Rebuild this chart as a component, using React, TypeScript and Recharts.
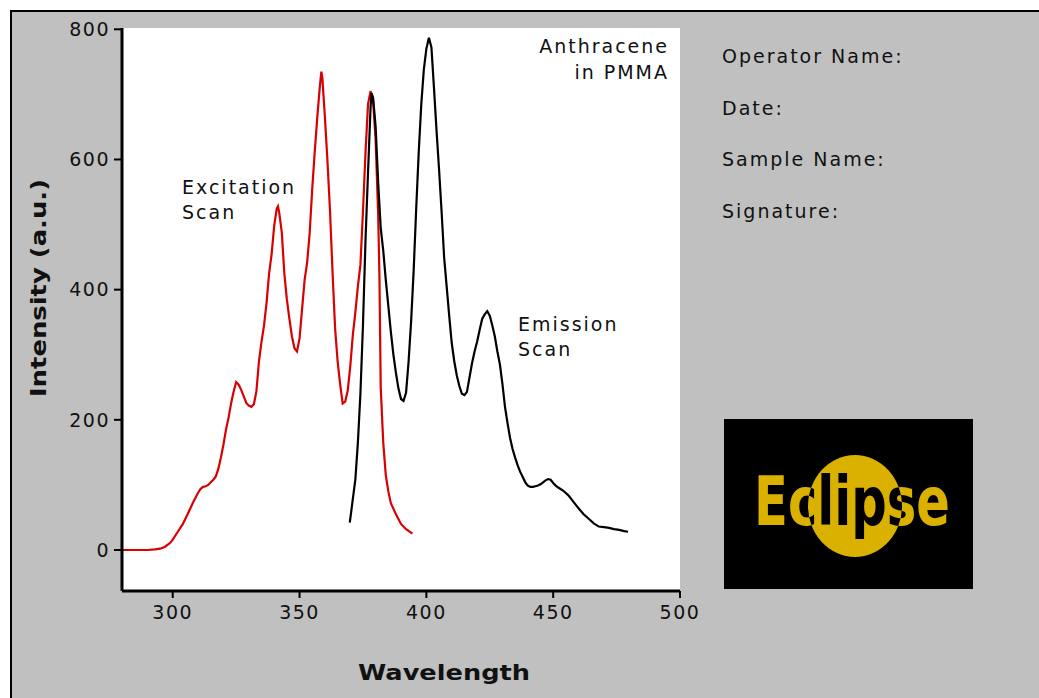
import React from 'react';
import { LineChart, Line, XAxis, YAxis, CartesianGrid } from 'recharts';

// [wavelength (nm), intensity (a.u.)]
const excitationScan: [number, number][] = [
  [280, 0], [285, 0], [290, 0], [293, 1], [295, 2], [297, 5], [299, 11], [300, 16], [302, 28], [304, 40],
  [306, 56], [308, 73], [310, 88], [311, 94], [312, 97], [313, 98], [314, 100], [315, 104], [316, 108], [317, 113],
  [318, 125], [319, 142], [320, 162], [321, 185], [322, 203], [323, 225], [324, 243], [325, 258], [326, 254], [327, 246],
  [328, 236], [329, 226], [330, 222], [331, 220], [332, 224], [333, 244], [334, 290], [335, 320], [336, 345], [337, 380],
  [338, 425], [339, 455], [340, 498], [341, 524], [341.5, 528], [342, 518], [343, 488], [344, 425], [345, 385], [346, 355],
  [347, 328], [348, 310], [349, 305], [350, 325], [351, 370], [352, 415], [353, 442], [354, 487], [355, 555], [356, 612],
  [357, 665], [358, 712], [358.6, 735], [359, 725], [360, 665], [361, 598], [362, 522], [363, 428], [364, 342], [365, 290],
  [366, 255], [367, 225], [368, 228], [369, 245], [370, 282], [371, 330], [372, 365], [373, 405], [374, 438], [375, 520],
  [376, 610], [377, 685], [378, 705], [379, 690], [380, 630], [381, 515], [381.5, 420], [382, 250], [383, 165], [384, 115],
  [385, 90], [386, 72], [388, 55], [390, 40], [392, 32], [394.5, 25],
];

const emissionScan: [number, number][] = [
  [369.8, 42], [371, 78], [372, 108], [373, 165], [374, 240], [375, 345], [376, 475], [377, 580], [378, 680], [378.4, 702],
  [379, 695], [380, 650], [381, 564], [382, 495], [383, 460], [384, 415], [385, 375], [386, 335], [387, 300], [388, 272],
  [389, 248], [390, 232], [391, 229], [392, 242], [393, 290], [394, 352], [395, 430], [396, 525], [397, 612], [398, 685],
  [399, 738], [400, 770], [401, 787], [402, 772], [403, 710], [404, 645], [405, 585], [406, 520], [407, 450], [408, 405],
  [409, 360], [410, 318], [411, 290], [412, 268], [413, 252], [414, 240], [415, 238], [416, 243], [417, 265], [418, 287],
  [419, 305], [420, 320], [421, 338], [422, 355], [423, 362], [424, 367], [425, 360], [426, 345], [427, 328], [428, 305],
  [429, 285], [430, 255], [431, 220], [432, 195], [433, 172], [434, 155], [435, 142], [436, 130], [437, 120], [438, 112],
  [439, 104], [440, 99], [441, 97], [442, 97], [443, 98], [444, 99], [445, 101], [446, 104], [447, 107], [448, 109],
  [449, 108], [450, 103], [451, 99], [452, 96], [454, 91], [456, 84], [458, 74], [460, 64], [462, 55], [464, 48],
  [466, 41], [468, 36], [470, 35], [472, 34], [474, 32], [476, 31], [478, 29], [479.5, 28],
];

const xTicks = [300, 350, 400, 450, 500];
const yTicks = [0, 200, 400, 600, 800];
const xDomain: [number, number] = [280, 500];
const yDomain: [number, number] = [-63, 802];
const infoLabels = ['Operator Name:', 'Date:', 'Sample Name:', 'Signature:'];

const excitationData = excitationScan.map(([w, v]) => ({ w, v }));
const emissionData = emissionScan.map(([w, v]) => ({ w, v }));

const FONT = "'DejaVu Sans', Verdana, sans-serif";
const GOLD = '#dbb100';

const textStyle: React.CSSProperties = { fontFamily: FONT, fontSize: 19, letterSpacing: 2, fill: '#111' };
const boldStyle: React.CSSProperties = { fontFamily: FONT, fontSize: 22, fontWeight: 'bold', fill: '#111' };
const tickStyle = { fill: '#111', fontSize: 19, fontFamily: FONT, letterSpacing: 1.5 };

export default function App() {
  return (
    <div style={{ position: 'absolute', left: 0, top: 0, width: 1039, height: 698, background: '#fff', overflow: 'hidden' }}>
      <div
        style={{
          position: 'absolute', left: 10, top: 10, width: 1100, height: 760,
          background: '#c0c0c0', borderTop: '2px solid #000', borderLeft: '2px solid #000',
        }}
      />
      <div style={{ position: 'absolute', left: 0, top: 0 }}>
        <LineChart width={1039} height={698} margin={{ top: 28, right: 359, bottom: 47, left: 22 }}>
          <CartesianGrid fill="#fff" stroke="none" horizontal={false} vertical={false} />
          <XAxis
            dataKey="w"
            type="number"
            domain={xDomain}
            ticks={xTicks}
            allowDataOverflow
            height={60}
            axisLine={{ stroke: '#000', strokeWidth: 3 }}
            tickLine={{ stroke: '#000', strokeWidth: 2 }}
            tickSize={7}
            tickMargin={8}
            tick={tickStyle}
          />
          <YAxis
            dataKey="v"
            type="number"
            domain={yDomain}
            ticks={yTicks}
            allowDataOverflow
            width={100}
            axisLine={{ stroke: '#000', strokeWidth: 3 }}
            tickLine={{ stroke: '#000', strokeWidth: 2 }}
            tickSize={8}
            tickMargin={4}
            tick={tickStyle}
          />
          <Line data={excitationData} dataKey="v" type="linear" stroke="#d80000" strokeWidth={2.2} dot={false} isAnimationActive={false} />
          <Line data={emissionData} dataKey="v" type="linear" stroke="#000" strokeWidth={2.2} dot={false} isAnimationActive={false} />
        </LineChart>
      </div>
      <svg width={1039} height={698} style={{ position: 'absolute', left: 0, top: 0, pointerEvents: 'none' }}>
        <text x={444} y={680} textAnchor="middle" style={boldStyle} textLength={172} lengthAdjust="spacingAndGlyphs">Wavelength</text>
        <text transform="translate(46,288) rotate(-90)" textAnchor="middle" style={boldStyle} textLength={218} lengthAdjust="spacingAndGlyphs">Intensity (a.u.)</text>

        <text x={182} y={194} style={textStyle}>Excitation</text>
        <text x={182} y={219} style={textStyle}>Scan</text>
        <text x={518} y={331} style={textStyle}>Emission</text>
        <text x={518} y={356} style={textStyle}>Scan</text>
        <text x={669} y={53} textAnchor="end" style={textStyle}>Anthracene</text>
        <text x={669} y={79} textAnchor="end" style={textStyle}>in PMMA</text>

        {infoLabels.map((t, i) => (
          <text key={t} x={722} y={63 + i * 51.7} style={textStyle}>{t}</text>
        ))}

        <defs>
          <clipPath id="sun">
            <ellipse cx={855} cy={506} rx={47} ry={51} />
          </clipPath>
        </defs>
        <rect x={724} y={419} width={249} height={170} fill="#000" />
        <ellipse cx={855} cy={506} rx={47} ry={51} fill={GOLD} />
        <text x={754} y={525} fill={GOLD} style={{ fontFamily: FONT, fontSize: 68, fontWeight: 'bold' }} textLength={196} lengthAdjust="spacingAndGlyphs">Eclipse</text>
        <g clipPath="url(#sun)">
          <text x={754} y={525} fill="#000" style={{ fontFamily: FONT, fontSize: 68, fontWeight: 'bold' }} textLength={196} lengthAdjust="spacingAndGlyphs">Eclipse</text>
        </g>
      </svg>
    </div>
  );
}
